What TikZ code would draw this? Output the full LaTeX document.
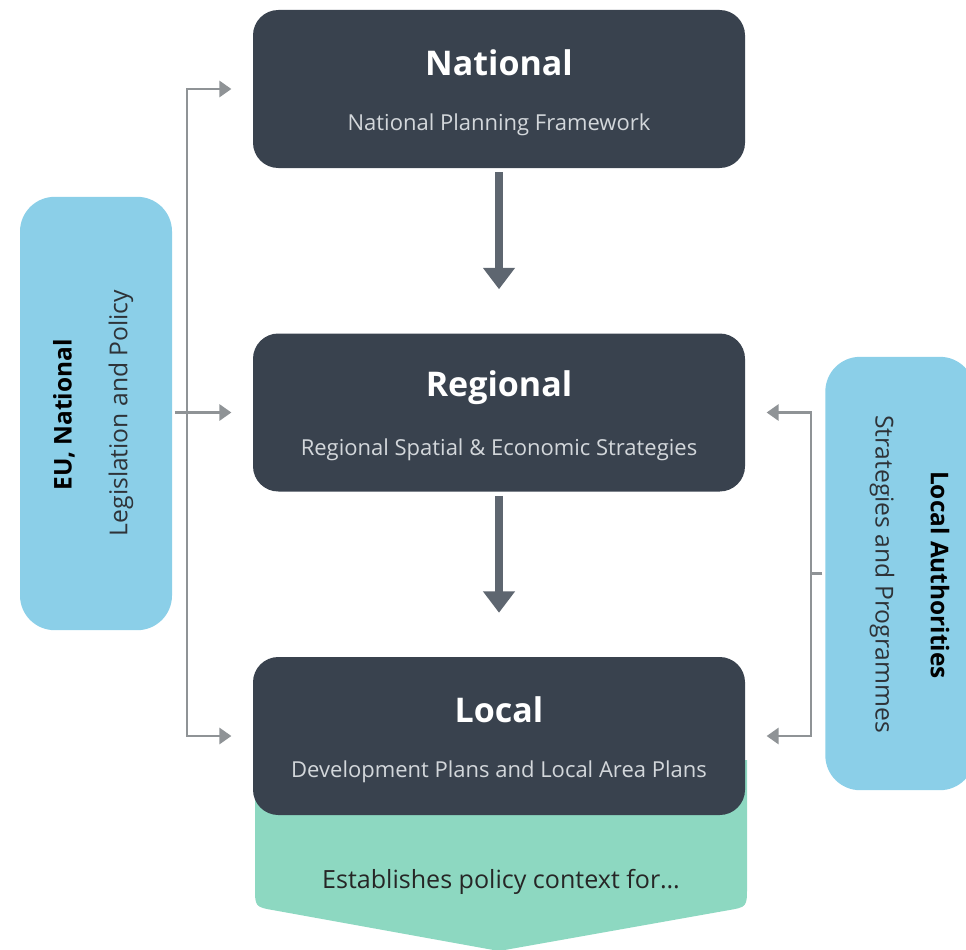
\documentclass[tikz,border=0pt]{standalone}
\usepackage{fontspec}
\setmainfont{Open Sans}
\usetikzlibrary{arrows.meta}
\definecolor{darkbox}{HTML}{39424E}
\definecolor{darkarrow}{HTML}{5E6670}
\definecolor{greyline}{HTML}{8F9396}
\definecolor{bluebox}{HTML}{8BCFE8}
\definecolor{greenbox}{HTML}{8DD8C1}
\definecolor{subtext}{HTML}{D3D7DB}
\definecolor{bluetext}{HTML}{2E3338}
\tikzset{
  levelbox/.style={fill=darkbox, rounded corners=19pt, minimum width=369pt, minimum height=118.5pt, inner sep=0pt},
  sidebox/.style={fill=bluebox, rounded corners=26pt, inner sep=0pt},
  leveltitle/.style={text=white, font=\fontsize{25.5}{30}\selectfont\bfseries, inner sep=0pt},
  levelsub/.style={text=subtext, font=\fontsize{16.5}{20}\selectfont, inner sep=0pt},
  sidetitle/.style={text=black, font=\fontsize{18.3}{22}\selectfont\bfseries, inner sep=0pt},
  sidesub/.style={text=bluetext, font=\fontsize{18.5}{22}\selectfont, inner sep=0pt},
  darrow/.style={draw=darkarrow, line width=6pt, -{Triangle[width=23pt,length=16pt]}},
  gline/.style={draw=greyline, line width=2.2pt, line join=miter},
  gtips/.style={{Triangle[width=12pt,length=9pt]}-{Triangle[width=12pt,length=9pt]}},
}
\begin{document}
\begin{tikzpicture}[x=0.75pt,y=-0.75pt]
\useasboundingbox (0,0) rectangle (966,949);
\clip (0,0) rectangle (966,949);
% green shape behind local box
\fill[greenbox] (255,760) -- (255,887) .. controls (255,907) .. (274.7,910.4)
  -- (499,951) -- (727.3,910.4) .. controls (747,907) .. (747,887) -- (747,760) -- cycle;
\node[text=black!85, font=\fontsize{18.8}{22}\selectfont, inner sep=0pt] (est) at (501,882) {Establishes policy context for…};
% level boxes
\node[levelbox] (nat) at (499,89) {};
\node[levelbox] (reg) at (499,412.5) {};
\node[levelbox] (loc) at (499,736) {};
\node[leveltitle] (natT) at (499,63) {National};
\node[levelsub] (natS) at (499,125) {National Planning Framework};
\node[leveltitle] (regT) at (499,388) {Regional};
\node[levelsub] (regS) at (499,450) {Regional Spatial \& Economic Strategies};
\node[leveltitle] (locT) at (499,710) {Local};
\node[levelsub] (locS) at (499,772) {Development Plans and Local Area Plans};
% side boxes
\node[sidebox, minimum width=114pt, minimum height=325pt] (eu) at (96,413.5) {};
\node[sidetitle, rotate=90] (euT) at (64,415) {EU, National};
\node[sidesub, rotate=90] (euS) at (121,413) {Legislation and Policy};
\node[sidebox, minimum width=112pt, minimum height=325pt] (la) at (900,573.5) {};
\node[sidetitle, rotate=-90] (laT) at (940,575) {Local Authorities};
\node[sidesub, rotate=-90] (laS) at (882,574) {Strategies and Programmes};
% dark arrows
\draw[darrow] ([yshift=-3pt]nat.south) -- ([yshift=33pt]reg.north);
\draw[darrow] ([yshift=-3pt]reg.south) -- ([yshift=33pt]loc.north);
% left connectors
\coordinate (lx) at (187,0);
\draw[gline,gtips] ([xshift=-16pt]nat.west) -| (lx |- loc.west) -- ([xshift=-16pt]loc.west);
\draw[gline,-{Triangle[width=12pt,length=9pt]}] ([xshift=2pt]eu.east |- reg.west) -- ([xshift=-16pt]reg.west);
% right connectors
\coordinate (rx) at (811,0);
\draw[gline,gtips] ([xshift=16pt]reg.east) -| (rx |- loc.east) -- ([xshift=16pt]loc.east);
\draw[gline] ([xshift=-2pt]la.west) -- (rx |- la.west);
\end{tikzpicture}
\end{document}
